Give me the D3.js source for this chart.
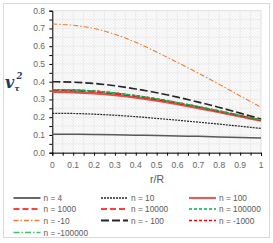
<!DOCTYPE html>
<html>
<head>
<meta charset="utf-8">
<script src="https://cdn.jsdelivr.net/npm/d3@7"></script>
<style>
  body { margin: 0; background: #fff; }
  svg text { font-family: "Liberation Sans", Arial, sans-serif; }
</style>
</head>
<body>
<div id="chart"></div>
<script>
// r/R sample points
const rR = [0, 0.1, 0.2, 0.3, 0.4, 0.5, 0.6, 0.7, 0.8, 0.9, 1];

// v_tau^2 values
const n4      = [0.104, 0.104, 0.103, 0.101, 0.099, 0.097, 0.094, 0.092, 0.089, 0.086, 0.083];
const n10     = [0.222, 0.221, 0.217, 0.211, 0.203, 0.193, 0.183, 0.172, 0.161, 0.149, 0.137];
const n100    = [0.343, 0.341, 0.335, 0.325, 0.311, 0.294, 0.274, 0.252, 0.229, 0.205, 0.181];
const n1000   = [0.352, 0.350, 0.344, 0.333, 0.318, 0.300, 0.279, 0.257, 0.233, 0.208, 0.183];
const n10000  = [0.354, 0.352, 0.346, 0.335, 0.320, 0.302, 0.281, 0.258, 0.234, 0.209, 0.184];
const n100000 = [0.355, 0.353, 0.347, 0.336, 0.321, 0.303, 0.282, 0.259, 0.235, 0.210, 0.184];
const nm10    = [0.725, 0.718, 0.700, 0.667, 0.622, 0.567, 0.508, 0.448, 0.385, 0.320, 0.256];
const nm100   = [0.400, 0.397, 0.390, 0.377, 0.359, 0.338, 0.313, 0.285, 0.255, 0.223, 0.190];
const nm1000  = [0.356, 0.354, 0.348, 0.337, 0.322, 0.304, 0.283, 0.260, 0.236, 0.211, 0.185];
const nm100000= [0.356, 0.354, 0.348, 0.337, 0.322, 0.304, 0.283, 0.260, 0.236, 0.211, 0.185];

const seriesNames = ["n = 4", "n = 10", "n = 100", "n = 1000", "n = 10000", "n = 100000",
                     "n = -10", "n = - 100", "n = -1000", "n = -100000"];
const seriesValues = [n4, n10, n100, n1000, n10000, n100000, nm10, nm100, nm1000, nm100000];
const xTicks = [0, 0.1, 0.2, 0.3, 0.4, 0.5, 0.6, 0.7, 0.8, 0.9, 1];
const yTicks = [0, 0.1, 0.2, 0.3, 0.4, 0.5, 0.6, 0.7, 0.8];

const styles = [
  { color: "#595959", width: 1.5, dash: null },
  { color: "#262626", width: 1.2, dash: "2,1" },
  { color: "#e0504c", width: 2.6, dash: null },
  { color: "#ff0000", width: 1.4, dash: "6,3" },
  { color: "#ff0000", width: 1.4, dash: "6,3" },
  { color: "#00b050", width: 1.4, dash: "3,2" },
  { color: "#ed7d31", width: 1.1, dash: "5,2,1.5,2" },
  { color: "#262626", width: 1.6, dash: "8,3" },
  { color: "#ff0000", width: 1.2, dash: "3,2" },
  { color: "#3cc36e", width: 1.2, dash: "6,2,1.5,2" }
];

const W = 273, H = 243;
const pLeft = 52.3, pRight = 261, pTop = 10.7, pBottom = 152.7;

const svg = d3.select("#chart").append("svg")
  .attr("width", W).attr("height", H);

// outer chart border
svg.append("rect")
  .attr("x", 3.5).attr("y", 3.5).attr("width", 266).attr("height", 234)
  .attr("fill", "#fff").attr("stroke", "#d9d9d9");

const defs = svg.append("defs");
const pat = defs.append("pattern")
  .attr("id", "hatch").attr("patternUnits", "userSpaceOnUse")
  .attr("width", 3).attr("height", 3);
pat.append("rect").attr("width", 3).attr("height", 3).attr("fill", "#fbfbfb");
pat.append("path").attr("d", "M0,0 L3,3 M-1,2 L1,4 M2,-1 L4,1")
  .attr("stroke", "#e8e8e8").attr("stroke-width", 0.6);

const x = d3.scaleLinear().domain([0, 1]).range([pLeft, pRight]);
const y = d3.scaleLinear().domain([0, 0.8]).range([pBottom, pTop]);

// plot area
svg.append("rect")
  .attr("x", pLeft).attr("y", pTop).attr("width", pRight - pLeft).attr("height", pBottom - pTop)
  .attr("fill", "url(#hatch)").attr("stroke", "#d9d9d9").attr("stroke-width", 0.8);

// gridlines every 0.05
const gx = d3.range(1, 20).map(i => i * 0.05);
const gy = d3.range(1, 16).map(i => i * 0.05);
svg.append("g").selectAll("line").data(gx).enter().append("line")
  .attr("x1", d => x(d)).attr("x2", d => x(d)).attr("y1", pTop).attr("y2", pBottom)
  .attr("stroke", "#e8e8e8").attr("stroke-width", 0.8);
svg.append("g").selectAll("line").data(gy).enter().append("line")
  .attr("y1", d => y(d)).attr("y2", d => y(d)).attr("x1", pLeft).attr("x2", pRight)
  .attr("stroke", "#e8e8e8").attr("stroke-width", 0.8);

// axes
const xAxis = svg.append("g").attr("transform", "translate(0," + pBottom + ")")
  .call(d3.axisBottom(x).tickValues(d3.range(0, 21).map(i => i * 0.05)).tickSize(3).tickFormat(""));
xAxis.select(".domain").attr("stroke", "#000");
xAxis.selectAll(".tick line").attr("stroke", "#000");

const yAxis = svg.append("g").attr("transform", "translate(" + pLeft + ",0)")
  .call(d3.axisLeft(y).tickValues(d3.range(0, 17).map(i => i * 0.05)).tickSize(3).tickFormat(""));
yAxis.select(".domain").attr("stroke", "#000");
yAxis.selectAll(".tick line").attr("stroke", "#000");

// tick labels
svg.append("g").selectAll("text").data(xTicks).enter().append("text")
  .attr("x", d => x(d)).attr("y", 168)
  .attr("text-anchor", "middle").attr("font-size", 8.5).attr("fill", "#666")
  .text(d => d3.format("")(d));
svg.append("g").selectAll("text").data(yTicks).enter().append("text")
  .attr("x", 45).attr("y", d => y(d) + 3)
  .attr("text-anchor", "end").attr("font-size", 8.5).attr("fill", "#666")
  .text(d => d.toFixed(1));

// axis titles
svg.append("text").attr("x", 157).attr("y", 183).attr("text-anchor", "middle")
  .attr("font-size", 10.5).attr("fill", "#595959").text("r/R");

const yt = svg.append("text").attr("x", 5).attr("y", 88)
  .attr("fill", "#1f3864").style("font-family", "'DejaVu Serif', 'Liberation Serif', serif")
  .attr("font-style", "italic").attr("font-weight", "bold");
yt.append("tspan").attr("font-size", 16).text("v");
yt.append("tspan").attr("font-size", 8).attr("dy", 3).text("τ");
yt.append("tspan").attr("font-size", 8.5).attr("x", 16.5).attr("dy", -12).text("2");

// curves
const line = d3.line().curve(d3.curveMonotoneX)
  .x((d, i) => x(rR[i])).y(d => y(d));
const order = [0, 1, 2, 3, 4, 6, 7, 8, 9, 5];
svg.append("g").selectAll("path").data(order).enter().append("path")
  .attr("d", i => line(seriesValues[i]))
  .attr("fill", "none")
  .attr("stroke", i => styles[i].color)
  .attr("stroke-width", i => styles[i].width)
  .attr("stroke-dasharray", i => styles[i].dash);

// legend
const colX = [13.5, 101, 189];
const rowY = [198, 209, 220.5, 232.5];
const leg = svg.append("g").selectAll("g").data(seriesNames).enter().append("g")
  .attr("transform", (d, i) => "translate(" + colX[i % 3] + "," + rowY[Math.floor(i / 3)] + ")");
leg.append("line").attr("x1", 0).attr("x2", 27).attr("y1", 0).attr("y2", 0)
  .attr("stroke", (d, i) => i === 2 ? "#d9625f" : styles[i].color)
  .attr("stroke-width", (d, i) => Math.min(styles[i].width + 0.3, 2.2))
  .attr("stroke-dasharray", (d, i) => styles[i].dash);
leg.append("text").attr("x", 30).attr("y", 3)
  .attr("font-size", 8.3).attr("fill", "#595959").text(d => d);
</script>
</body>
</html>
